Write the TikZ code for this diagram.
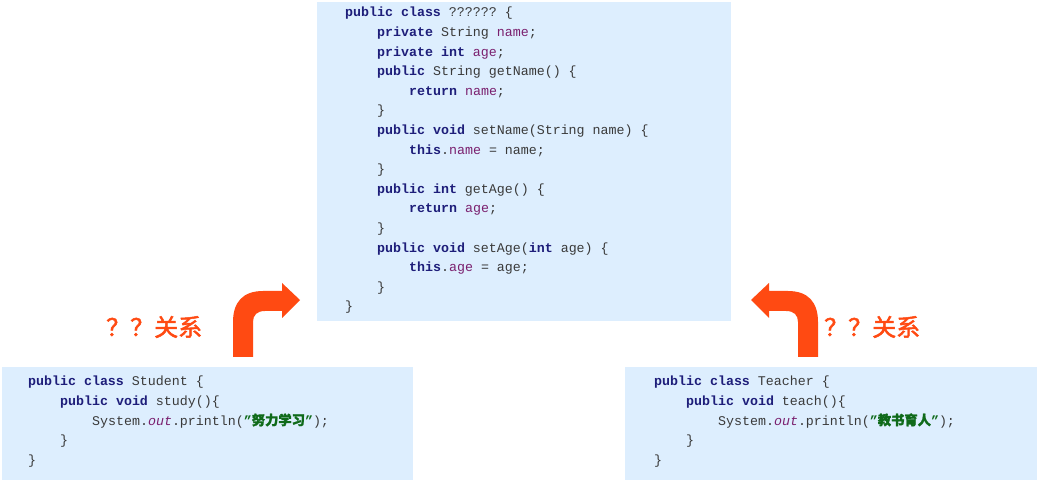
\documentclass[tikz,border=0pt]{standalone}
\usepackage{fontspec}
\setmonofont{Liberation Mono}
\newfontfamily\cjkb[FakeBold=2]{Noto Sans CJK SC}
\newfontfamily\cjkg[FakeBold=1.5]{Noto Sans CJK SC}
\definecolor{kw}{HTML}{1E1E7A}
\definecolor{fld}{HTML}{7A1F6E}
\definecolor{pl}{HTML}{3A3A3A}
\definecolor{strg}{HTML}{0F6A1A}
\definecolor{boxbg}{HTML}{DDEEFE}
\definecolor{arr}{HTML}{FF4A12}
\newcommand{\K}[1]{\textcolor{kw}{\bfseries #1}}
\newcommand{\F}[1]{\textcolor{fld}{#1}}
\newcommand{\I}{\hspace*{32pt}}
\begin{document}
\begin{tikzpicture}[x=1pt,y=1pt,
  codebox/.style={fill=boxbg,draw=none},
  code/.style={anchor=north west,inner sep=0pt,align=left,text=pl,
    font=\ttfamily\fontsize{13.3}{19.6}\selectfont},
  rel/.style={text=arr,font=\cjkb\fontsize{24}{26}\selectfont,inner sep=0pt},
  arrowshape/.style={fill=arr,draw=none}]
\useasboundingbox (0,0) rectangle (1042,482);
\fill[white] (0,0) rectangle (1042,482);
\path[codebox] (317,480) rectangle (731,161);
\path[codebox] (2,115) rectangle (413,2);
\path[codebox] (625,115) rectangle (1037,2);
\node[code] (top) at (345,475) {\K{public class} ?????? \{\\
\I\K{private} String \F{name};\\
\I\K{private int} \F{age};\\
\I\K{public} String getName() \{\\
\I\I\K{return} \F{name};\\
\I\}\\
\I\K{public void} setName(String name) \{\\
\I\I\K{this}.\F{name} = name;\\
\I\}\\
\I\K{public int} getAge() \{\\
\I\I\K{return} \F{age};\\
\I\}\\
\I\K{public void} setAge(\K{int} age) \{\\
\I\I\K{this}.\F{age} = age;\\
\I\}\\
\}};
\node[code] (stu) at (28,106) {\K{public class} Student \{\\
\I\K{public void} study()\{\\
\I\I System.\textcolor{fld}{\itshape out}.println(\textcolor{strg}{\bfseries ”\cjkg 努力学习\ttfamily\bfseries ”});\\
\I\}\\
\}};
\node[code] (tea) at (654,106) {\K{public class} Teacher \{\\
\I\K{public void} teach()\{\\
\I\I System.\textcolor{fld}{\itshape out}.println(\textcolor{strg}{\bfseries ”\cjkg 教书育人\ttfamily\bfseries ”});\\
\I\}\\
\}};
\path[arrowshape] (233,125) -- (233,160) .. controls (233,180) and (243,191) .. (263,191) -- (282,191) -- (282,199) -- (300,182) -- (282,164) -- (282,171) -- (265,171) .. controls (257,171) and (253,167) .. (253,160) -- (253,125) -- cycle;
\path[arrowshape] (818,125) -- (818,160) .. controls (818,180) and (808,191) .. (788,191) -- (769,191) -- (769,199) -- (751,182) -- (769,164) -- (769,171) -- (786,171) .. controls (794,171) and (798,167) .. (798,160) -- (798,125) -- cycle;
\node[rel,anchor=west] (rl) at (106,155) {？？关系};
\node[rel,anchor=west] (rr) at (824,155) {？？关系};
\end{tikzpicture}
\end{document}
